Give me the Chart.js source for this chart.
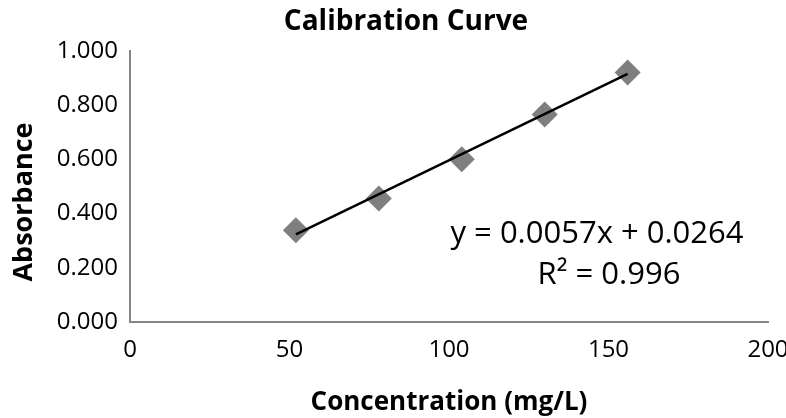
<!DOCTYPE html>
<html><head><meta charset="utf-8">
<script src="https://cdn.jsdelivr.net/npm/chart.js@4"></script>
<style>html,body{margin:0;padding:0;background:#fff}#wrap{width:786px;height:418px}</style>
</head><body><div id="wrap"><canvas id="c" width="786" height="418"></canvas></div>
<script>
const concentration = [52, 78, 104, 130, 156];
const absorbance = [0.339, 0.456, 0.601, 0.766, 0.921];
const trendX = [52, 156];
const trendY = [0.323, 0.916];
const yTicks = [0, 0.2, 0.4, 0.6, 0.8, 1.0];
const xTicks = [0, 50, 100, 150, 200];
const chartTitle = 'Calibration Curve';
const xTitle = 'Concentration (mg/L)';
const yTitle = 'Absorbance';
const equationLines = ['y = 0.0057x + 0.0264', 'R² = 0.996'];

const FONT = 'Open Sans';

const textPlugin = {
  id: 'texts',
  afterDraw(chart) {
    const ctx = chart.ctx;
    ctx.save();
    ctx.fillStyle = '#000';
    ctx.textAlign = 'center';
    ctx.textBaseline = 'alphabetic';
    // title
    ctx.font = 'bold 28px "' + FONT + '"';
    ctx.fillText(chartTitle, 406, 30);
    // y title
    ctx.save();
    ctx.translate(32, 202);
    ctx.rotate(-Math.PI / 2);
    ctx.font = 'bold 27px "' + FONT + '"';
    ctx.fillText(yTitle, 0, 0);
    ctx.restore();
    // equation
    ctx.font = '31px "' + FONT + '"';
    ctx.fillText(equationLines[0], 597, 243);
    ctx.fillText(equationLines[1], 609, 284);
    ctx.restore();
  }
};

new Chart(document.getElementById('c'), {
  type: 'scatter',
  data: {
    datasets: [
      {
        label: 'Trendline',
        type: 'line',
        data: trendX.map((x, i) => ({x: x, y: trendY[i]})),
        borderColor: '#000',
        borderWidth: 2.5,
        pointRadius: 0,
        fill: false,
        order: 0
      },
      {
        label: 'Absorbance',
        data: concentration.map((x, i) => ({x: x, y: absorbance[i]})),
        pointStyle: 'rectRot',
        pointRadius: 13,
        backgroundColor: '#7f7f7f',
        borderColor: '#7f7f7f',
        borderWidth: 0,
        order: 1
      }
    ]
  },
  options: {
    responsive: false,
    animation: false,
    devicePixelRatio: 1,
    layout: {padding: {top: 51, right: 18, left: 0, bottom: 0}},
    plugins: {legend: {display: false}, title: {display: false}, tooltip: {enabled: false}},
    scales: {
      x: {
        type: 'linear', min: 0, max: 200,
        afterBuildTicks: s => { s.ticks = xTicks.map(v => ({value: v})); },
        grid: {display: false, drawTicks: false},
        border: {color: '#868686', width: 2},
        ticks: {font: {family: FONT, size: 24}, color: '#000', padding: 14, maxRotation: 0},
        title: {display: true, text: xTitle, font: {family: FONT, size: 26, weight: 'bold'}, color: '#000', padding: {top: 10, bottom: 0}},
        afterFit: s => { s.height = 96; s.paddingRight = 0; s.paddingLeft = 0; }
      },
      y: {
        type: 'linear', min: 0, max: 1,
        afterBuildTicks: s => { s.ticks = yTicks.map(v => ({value: v})); },
        grid: {display: false, drawTicks: false},
        border: {color: '#868686', width: 2},
        ticks: {font: {family: FONT, size: 24}, color: '#000', padding: 12, callback: v => Number(v).toFixed(3)},
        afterFit: s => { s.width = 130; s.paddingTop = 0; s.paddingBottom = 0; }
      }
    }
  },
  plugins: [textPlugin]
});
</script>
</body></html>
